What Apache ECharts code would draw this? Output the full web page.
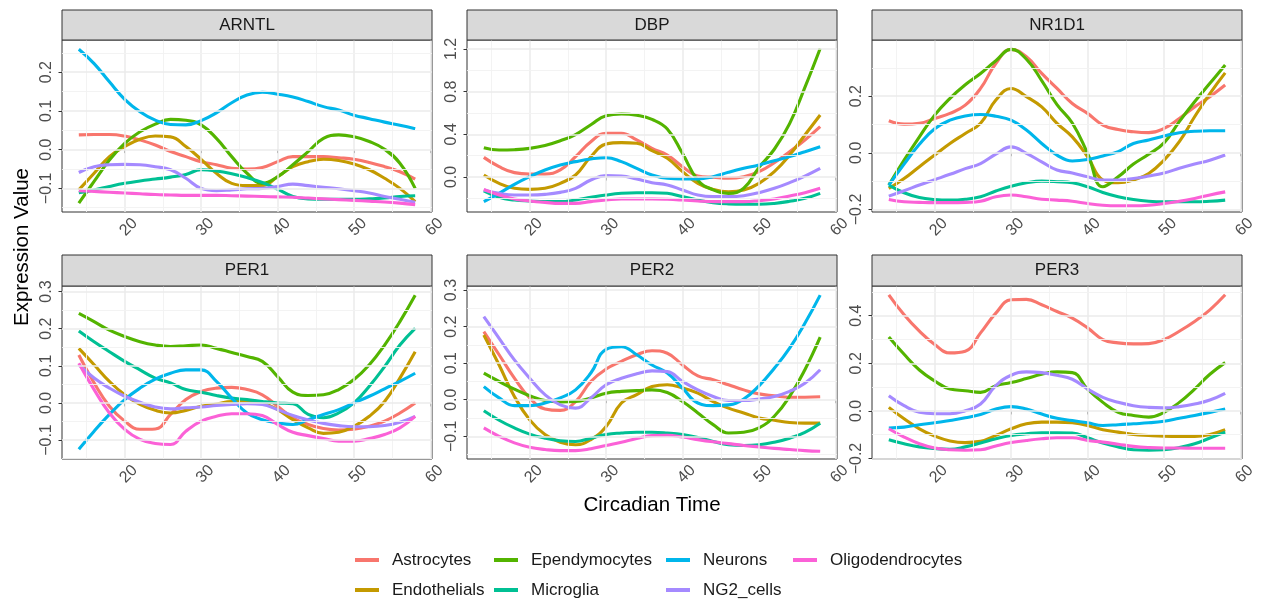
<!DOCTYPE html>
<html><head><meta charset="utf-8">
<script src="https://cdn.jsdelivr.net/npm/echarts@6/dist/echarts.min.js"></script>
<style>html,body{margin:0;padding:0;background:#fff}#c{width:1263px;height:601px}</style>
</head><body><div id="c"></div>
<script>
// ---------- data ----------
const ctimes = [14,16,18,20,22,24,26,28,30,32,34,36,38,40,42,44,46,48,50,52,54,56,58];
const genes = ['ARNTL','DBP','NR1D1','PER1','PER2','PER3'];
const cellTypes = ['Astrocytes','Endothelials','Ependymocytes','Microglia','Neurons','NG2_cells','Oligodendrocytes'];
const xTicks = [20,30,40,50,60];
const yTicks_ARNTL = [-0.1,0,0.1,0.2];
const yTicks_DBP = [0,0.4,0.8,1.2];
const yTicks_NR1D1 = [-0.2,0,0.2];
const yTicks_PER1 = [-0.1,0,0.1,0.2,0.3];
const yTicks_PER2 = [-0.1,0,0.1,0.2,0.3];
const yTicks_PER3 = [-0.2,0,0.2,0.4];

const ARNTL_Astrocytes = [0.038,0.039,0.039,0.035,0.025,0.012,-0.005,-0.018,-0.031,-0.039,-0.048,-0.050,-0.046,-0.031,-0.018,-0.018,-0.018,-0.021,-0.025,-0.033,-0.044,-0.057,-0.076];
const ARNTL_Endothelials = [-0.104,-0.061,-0.018,0.008,0.027,0.035,0.033,0.008,-0.025,-0.061,-0.087,-0.093,-0.093,-0.070,-0.044,-0.031,-0.025,-0.028,-0.037,-0.052,-0.074,-0.100,-0.134];
const ARNTL_Ependymocytes = [-0.138,-0.082,-0.027,0.016,0.046,0.066,0.078,0.076,0.064,0.029,-0.018,-0.061,-0.087,-0.070,-0.039,-0.005,0.029,0.038,0.033,0.021,0.001,-0.035,-0.100];
const ARNTL_Microglia = [-0.111,-0.104,-0.095,-0.087,-0.081,-0.076,-0.071,-0.064,-0.052,-0.055,-0.062,-0.072,-0.085,-0.102,-0.121,-0.127,-0.128,-0.128,-0.128,-0.127,-0.125,-0.121,-0.119];
const ARNTL_Neurons = [0.259,0.222,0.175,0.130,0.098,0.076,0.065,0.064,0.075,0.095,0.121,0.141,0.148,0.143,0.136,0.124,0.111,0.102,0.089,0.080,0.071,0.063,0.054];
const ARNTL_NG2_cells = [-0.059,-0.044,-0.039,-0.038,-0.039,-0.044,-0.052,-0.074,-0.100,-0.106,-0.104,-0.101,-0.100,-0.095,-0.089,-0.093,-0.097,-0.101,-0.106,-0.112,-0.121,-0.128,-0.136];
const ARNTL_Oligodendrocytes = [-0.106,-0.108,-0.110,-0.112,-0.114,-0.116,-0.117,-0.118,-0.118,-0.118,-0.119,-0.120,-0.121,-0.122,-0.123,-0.125,-0.127,-0.129,-0.131,-0.133,-0.135,-0.138,-0.142];

const DBP_Astrocytes = [0.184,0.097,0.041,0.028,0.028,0.066,0.19,0.331,0.41,0.41,0.347,0.269,0.206,0.097,0.009,-0.003,-0.012,0.003,0.05,0.134,0.237,0.347,0.472];
const DBP_Endothelials = [0.019,-0.059,-0.106,-0.116,-0.106,-0.059,0.019,0.19,0.309,0.322,0.316,0.247,0.175,0.05,-0.059,-0.116,-0.138,-0.122,-0.059,0.05,0.206,0.394,0.581];
const DBP_Ependymocytes = [0.275,0.253,0.256,0.268,0.295,0.34,0.398,0.49,0.575,0.59,0.578,0.54,0.45,0.22,-0.03,-0.12,-0.153,-0.105,0.09,0.26,0.50,0.84,1.205];
const DBP_Microglia = [-0.131,-0.191,-0.216,-0.225,-0.231,-0.231,-0.216,-0.191,-0.169,-0.153,-0.147,-0.147,-0.153,-0.184,-0.216,-0.240,-0.252,-0.256,-0.256,-0.248,-0.228,-0.200,-0.153];
const DBP_Neurons = [-0.231,-0.153,-0.069,0.003,0.066,0.113,0.144,0.169,0.181,0.144,0.081,0.019,-0.012,-0.019,-0.019,0.003,0.044,0.081,0.113,0.153,0.191,0.237,0.284];
const DBP_NG2_cells = [-0.122,-0.153,-0.169,-0.169,-0.163,-0.144,-0.106,-0.028,0.013,0.009,-0.019,-0.053,-0.075,-0.122,-0.169,-0.184,-0.184,-0.175,-0.147,-0.106,-0.053,0.009,0.081];
const DBP_Oligodendrocytes = [-0.116,-0.169,-0.206,-0.225,-0.238,-0.247,-0.247,-0.231,-0.216,-0.206,-0.206,-0.206,-0.209,-0.216,-0.225,-0.231,-0.231,-0.231,-0.222,-0.206,-0.178,-0.147,-0.106];

const NR1D1_Astrocytes = [0.113,0.101,0.104,0.121,0.139,0.168,0.227,0.315,0.365,0.339,0.28,0.227,0.174,0.139,0.098,0.082,0.074,0.071,0.086,0.121,0.162,0.198,0.239];
const NR1D1_Endothelials = [-0.126,-0.091,-0.049,-0.008,0.033,0.068,0.104,0.186,0.227,0.198,0.162,0.104,0.056,-0.014,-0.096,-0.106,-0.096,-0.073,-0.026,0.039,0.127,0.209,0.282];
const NR1D1_Ependymocytes = [-0.114,-0.026,0.056,0.133,0.192,0.240,0.280,0.325,0.365,0.33,0.255,0.17,0.105,-0.002,-0.12,-0.085,-0.04,-0.005,0.035,0.11,0.18,0.245,0.31];
const NR1D1_Microglia = [-0.114,-0.141,-0.158,-0.165,-0.167,-0.164,-0.155,-0.135,-0.118,-0.106,-0.100,-0.102,-0.106,-0.120,-0.140,-0.155,-0.165,-0.171,-0.173,-0.173,-0.173,-0.171,-0.167];
const NR1D1_Neurons = [-0.114,-0.040,0.030,0.085,0.115,0.130,0.135,0.129,0.115,0.08,0.033,-0.008,-0.029,-0.024,-0.011,0.004,0.033,0.045,0.059,0.071,0.076,0.078,0.078];
const NR1D1_NG2_cells = [-0.153,-0.134,-0.114,-0.095,-0.076,-0.056,-0.038,-0.005,0.021,-0.002,-0.032,-0.061,-0.071,-0.085,-0.096,-0.096,-0.091,-0.082,-0.071,-0.055,-0.040,-0.026,-0.008];
const NR1D1_Oligodendrocytes = [-0.165,-0.173,-0.175,-0.176,-0.176,-0.175,-0.171,-0.155,-0.149,-0.155,-0.164,-0.167,-0.171,-0.179,-0.185,-0.187,-0.187,-0.185,-0.179,-0.171,-0.161,-0.149,-0.138];

const PER1_Astrocytes = [0.129,0.054,-0.009,-0.049,-0.071,-0.070,-0.031,0.009,0.031,0.040,0.042,0.036,0.022,-0.009,-0.040,-0.058,-0.069,-0.073,-0.071,-0.063,-0.049,-0.027,0.0];
const PER1_Endothelials = [0.147,0.103,0.058,0.022,-0.004,-0.020,-0.027,-0.020,-0.009,-0.003,0.004,0.004,0.0,-0.018,-0.045,-0.067,-0.082,-0.079,-0.063,-0.036,0.004,0.067,0.138];
const PER1_Ependymocytes = [0.241,0.219,0.196,0.179,0.165,0.156,0.152,0.154,0.156,0.147,0.136,0.125,0.112,0.071,0.029,0.020,0.022,0.036,0.063,0.103,0.156,0.219,0.290];
const PER1_Microglia = [0.194,0.165,0.138,0.112,0.089,0.067,0.054,0.036,0.029,0.020,0.013,0.009,0.004,0.0,-0.002,-0.031,-0.040,-0.027,0.0,0.045,0.098,0.156,0.201];
const PER1_Neurons = [-0.125,-0.076,-0.031,0.009,0.040,0.064,0.080,0.089,0.089,0.058,0.013,-0.027,-0.045,-0.054,-0.058,-0.045,-0.031,-0.018,0.0,0.018,0.038,0.058,0.080];
const PER1_NG2_cells = [0.103,0.067,0.040,0.018,0.002,-0.011,-0.016,-0.013,-0.011,-0.007,-0.004,-0.002,-0.004,-0.018,-0.034,-0.046,-0.055,-0.061,-0.064,-0.064,-0.061,-0.052,-0.036];
const PER1_Oligodendrocytes = [0.107,0.036,-0.027,-0.071,-0.098,-0.109,-0.112,-0.076,-0.049,-0.036,-0.029,-0.029,-0.034,-0.058,-0.079,-0.088,-0.096,-0.103,-0.103,-0.096,-0.085,-0.067,-0.036];

const PER2_Astrocytes = [0.186,0.123,0.059,0.005,-0.025,-0.029,-0.005,0.050,0.084,0.105,0.123,0.134,0.127,0.095,0.065,0.055,0.041,0.027,0.016,0.011,0.007,0.007,0.008];
const PER2_Endothelials = [0.177,0.095,0.009,-0.055,-0.095,-0.116,-0.123,-0.109,-0.073,-0.009,0.014,0.036,0.041,0.032,0.018,-0.005,-0.023,-0.036,-0.050,-0.056,-0.062,-0.064,-0.064];
const PER2_Ependymocytes = [0.073,0.050,0.029,0.011,-0.002,-0.006,-0.005,0.005,0.018,0.023,0.025,0.027,0.020,-0.005,-0.036,-0.068,-0.091,-0.089,-0.077,-0.045,0.009,0.082,0.171];
const PER2_Microglia = [-0.030,-0.056,-0.077,-0.094,-0.105,-0.112,-0.114,-0.105,-0.095,-0.091,-0.089,-0.089,-0.091,-0.095,-0.103,-0.114,-0.123,-0.125,-0.123,-0.116,-0.105,-0.089,-0.064];
const PER2_Neurons = [0.036,0.005,-0.016,-0.016,-0.009,0.005,0.027,0.073,0.138,0.145,0.123,0.095,0.073,0.032,-0.009,-0.016,-0.014,0.002,0.038,0.086,0.141,0.209,0.286];
const PER2_NG2_cells = [0.227,0.168,0.109,0.059,0.014,-0.014,-0.023,0.005,0.041,0.059,0.071,0.079,0.077,0.050,0.027,0.009,-0.002,-0.002,0.002,0.009,0.023,0.045,0.082];
const PER2_Oligodendrocytes = [-0.077,-0.100,-0.118,-0.130,-0.136,-0.139,-0.139,-0.134,-0.125,-0.116,-0.106,-0.098,-0.097,-0.102,-0.109,-0.115,-0.120,-0.125,-0.129,-0.133,-0.136,-0.139,-0.141];

const PER3_Astrocytes = [0.488,0.404,0.335,0.279,0.244,0.251,0.328,0.411,0.467,0.469,0.446,0.418,0.390,0.349,0.300,0.286,0.282,0.283,0.300,0.335,0.376,0.425,0.488];
const PER3_Endothelials = [0.015,-0.033,-0.075,-0.106,-0.126,-0.133,-0.128,-0.103,-0.075,-0.054,-0.047,-0.047,-0.050,-0.061,-0.079,-0.089,-0.099,-0.103,-0.106,-0.107,-0.107,-0.099,-0.079];
const PER3_Ependymocytes = [0.311,0.238,0.172,0.126,0.092,0.085,0.078,0.106,0.119,0.136,0.154,0.164,0.161,0.092,0.036,-0.006,-0.019,-0.026,-0.006,0.036,0.092,0.154,0.203];
const PER3_Microglia = [-0.121,-0.138,-0.151,-0.158,-0.161,-0.151,-0.135,-0.117,-0.103,-0.096,-0.092,-0.092,-0.093,-0.113,-0.135,-0.151,-0.163,-0.165,-0.163,-0.154,-0.138,-0.114,-0.089];
const PER3_Neurons = [-0.072,-0.068,-0.058,-0.050,-0.040,-0.029,-0.015,0.008,0.018,0.008,-0.013,-0.031,-0.040,-0.050,-0.061,-0.058,-0.054,-0.050,-0.043,-0.031,-0.019,-0.006,0.008];
const PER3_NG2_cells = [0.064,0.022,-0.006,-0.012,-0.012,0.001,0.029,0.106,0.150,0.164,0.161,0.150,0.133,0.092,0.057,0.036,0.022,0.015,0.013,0.018,0.029,0.046,0.074];
const PER3_Oligodendrocytes = [-0.075,-0.110,-0.138,-0.156,-0.163,-0.165,-0.163,-0.147,-0.133,-0.124,-0.117,-0.113,-0.113,-0.124,-0.131,-0.140,-0.149,-0.154,-0.156,-0.156,-0.157,-0.157,-0.157];

// ---------- assembly ----------
const values = {
  ARNTL: [ARNTL_Astrocytes,ARNTL_Endothelials,ARNTL_Ependymocytes,ARNTL_Microglia,ARNTL_Neurons,ARNTL_NG2_cells,ARNTL_Oligodendrocytes],
  DBP: [DBP_Astrocytes,DBP_Endothelials,DBP_Ependymocytes,DBP_Microglia,DBP_Neurons,DBP_NG2_cells,DBP_Oligodendrocytes],
  NR1D1: [NR1D1_Astrocytes,NR1D1_Endothelials,NR1D1_Ependymocytes,NR1D1_Microglia,NR1D1_Neurons,NR1D1_NG2_cells,NR1D1_Oligodendrocytes],
  PER1: [PER1_Astrocytes,PER1_Endothelials,PER1_Ependymocytes,PER1_Microglia,PER1_Neurons,PER1_NG2_cells,PER1_Oligodendrocytes],
  PER2: [PER2_Astrocytes,PER2_Endothelials,PER2_Ependymocytes,PER2_Microglia,PER2_Neurons,PER2_NG2_cells,PER2_Oligodendrocytes],
  PER3: [PER3_Astrocytes,PER3_Endothelials,PER3_Ependymocytes,PER3_Microglia,PER3_Neurons,PER3_NG2_cells,PER3_Oligodendrocytes]
};
const yTicks = {ARNTL:yTicks_ARNTL, DBP:yTicks_DBP, NR1D1:yTicks_NR1D1, PER1:yTicks_PER1, PER2:yTicks_PER2, PER3:yTicks_PER3};
const yLimits = {ARNTL:[-0.161,0.283], DBP:[-0.328,1.284], NR1D1:[-0.209,0.398], PER1:[-0.151,0.315], PER2:[-0.162,0.311], PER3:[-0.202,0.525]};
const xLimits = [11.8, 60.2];
const colors = ['#F8766D','#C49A00','#53B400','#00C094','#00B6EB','#A58AFF','#FB61D7'];

const colLeft = [62, 467, 872], panelW = 370;
const rowTop = [40, 286], panelH = [172, 173];
const stripH = [30, 31];
const FONT = '"Liberation Sans", Arial, "DejaVu Sans", sans-serif';
const fmtY = v => (Math.abs(v) < 1e-9 ? '0.0' : v.toFixed(1)).replace('-', '\u2212');

const grids = [], xAxes = [], yAxes = [], series = [], graphics = [];
genes.forEach((g, gi) => {
  const c = gi % 3, r = Math.floor(gi / 3);
  grids.push({left: colLeft[c], top: rowTop[r], width: panelW, height: panelH[r],
    show: true, backgroundColor: '#fff', borderColor: '#333333', borderWidth: 1, containLabel: false});
  xAxes.push({type: 'value', gridIndex: gi, min: xLimits[0], max: xLimits[1],
    axisLine: {show: false}, splitLine: {show: false},
    axisTick: {show: true, customValues: xTicks, length: 3.5, lineStyle: {color: '#333333', width: 1}},
    axisLabel: {customValues: xTicks, rotate: 45, align: 'right', verticalAlign: 'top', padding: [6.5,0,0,0],
      margin: -1.5, fontSize: 16, color: '#4D4D4D', fontFamily: FONT, formatter: v => String(Math.round(v))}});
  const yt = yTicks[g];
  yAxes.push({type: 'value', gridIndex: gi, min: yLimits[g][0], max: yLimits[g][1],
    axisLine: {show: false}, splitLine: {show: false},
    axisTick: {show: true, customValues: yt, length: 3.5, lineStyle: {color: '#333333', width: 1}},
    axisLabel: {customValues: yt, rotate: 90, margin: 7, fontSize: 16, color: '#4D4D4D', fontFamily: FONT, formatter: fmtY}});
  // grid lines (major + minor) drawn through the axes' scales
  const step = yt[1] - yt[0];
  const ml = [];
  const minorStyle = {color: '#F2F2F2', width: 0.9, type: 'solid'};
  const majorStyle = {color: '#EBEBEB', width: 1.5, type: 'solid'};
  [15,25,35,45,55].forEach(v => ml.push({xAxis: v, lineStyle: minorStyle}));
  xTicks.forEach(v => ml.push({xAxis: v, lineStyle: majorStyle}));
  for (let k = -3; k < yt.length + 3; k++) {
    const mv = yt[0] + (k + 0.5) * step;
    if (mv > yLimits[g][0] && mv < yLimits[g][1]) ml.push({yAxis: +mv.toFixed(4), lineStyle: minorStyle});
  }
  yt.forEach(v => ml.push({yAxis: v, lineStyle: majorStyle}));
  series.push({type: 'line', xAxisIndex: gi, yAxisIndex: gi, data: [], silent: true, z: 1,
    markLine: {silent: true, symbol: ['none','none'], label: {show: false}, animation: false,
      emphasis: {disabled: true}, data: ml}});
  cellTypes.forEach((ct, ci) => {
    series.push({type: 'line', name: ct, xAxisIndex: gi, yAxisIndex: gi, z: 3,
      data: ctimes.map((t, i) => [t, values[g][ci][i]]),
      smooth: 0.45, showSymbol: false, symbol: 'none',
      lineStyle: {width: 3.1, color: colors[ci]}, itemStyle: {color: colors[ci]},
      emphasis: {disabled: true}, animation: false});
  });
  // facet strip
  graphics.push({type: 'rect', shape: {x: colLeft[c], y: rowTop[r] - stripH[r], width: panelW, height: stripH[r]},
    style: {fill: '#D9D9D9', stroke: '#333333', lineWidth: 1}, z: 10});
  graphics.push({type: 'text', x: colLeft[c] + panelW / 2, y: rowTop[r] - stripH[r] / 2,
    style: {text: g, fontSize: 17, fill: '#1A1A1A', font: '17px ' + FONT, align: 'center', verticalAlign: 'middle'}, z: 11});
});
graphics.push({type: 'text', x: 652, y: 505, style: {text: 'Circadian Time', font: '20.5px ' + FONT, fill: '#000', align: 'center', verticalAlign: 'middle'}});
graphics.push({type: 'text', x: 22, y: 247, rotation: Math.PI / 2, style: {text: 'Expression Value', font: '20.5px ' + FONT, fill: '#000', align: 'center', verticalAlign: 'middle'}});

const legendCols = [['Astrocytes','Endothelials'],['Ependymocytes','Microglia'],['Neurons','NG2_cells'],['Oligodendrocytes']];
const legendLeft = [355, 494, 666, 793];
const legends = legendCols.map((d, i) => ({data: d, left: legendLeft[i], top: 550, orient: 'vertical', padding: 0,
  itemGap: 10, itemWidth: 24, itemHeight: 4, icon: 'rect', selectedMode: false,
  textStyle: {fontSize: 17, color: '#1A1A1A', fontFamily: FONT, padding: [0,0,0,8], lineHeight: 20}}));

const chart = echarts.init(document.getElementById('c'), null, {renderer: 'canvas'});
chart.setOption({animation: false, backgroundColor: '#ffffff', grid: grids, xAxis: xAxes, yAxis: yAxes,
  series: series, legend: legends, graphic: graphics});
</script></body></html>
